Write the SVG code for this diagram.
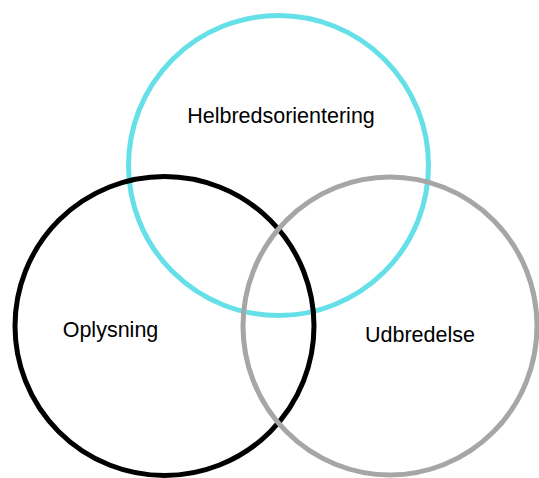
<svg xmlns="http://www.w3.org/2000/svg" width="539" height="478" viewBox="0 0 539 478">
  <style>
    .ring { fill: none; stroke-width: 5; }
    .label { font-family: "Liberation Sans", Arial, sans-serif; font-size: 21.5px; fill: #000; text-anchor: middle; }
  </style>
  <rect width="539" height="478" fill="#ffffff"/>
  <g id="helbredsorientering">
    <circle class="ring" cx="278.5" cy="165.5" r="150" stroke="#66E0E8"/>
    <text class="label" x="281" y="122.5">Helbredsorientering</text>
  </g>
  <g id="oplysning">
    <circle class="ring" cx="164.5" cy="326" r="149.5" stroke="#000000"/>
    <text class="label" x="110.5" y="337">Oplysning</text>
  </g>
  <g id="udbredelse">
    <ellipse class="ring" cx="390" cy="326" rx="147" ry="149" stroke="#A6A6A6"/>
    <text class="label" x="420" y="341.5">Udbredelse</text>
  </g>
  <g id="connectors"></g>
</svg>
